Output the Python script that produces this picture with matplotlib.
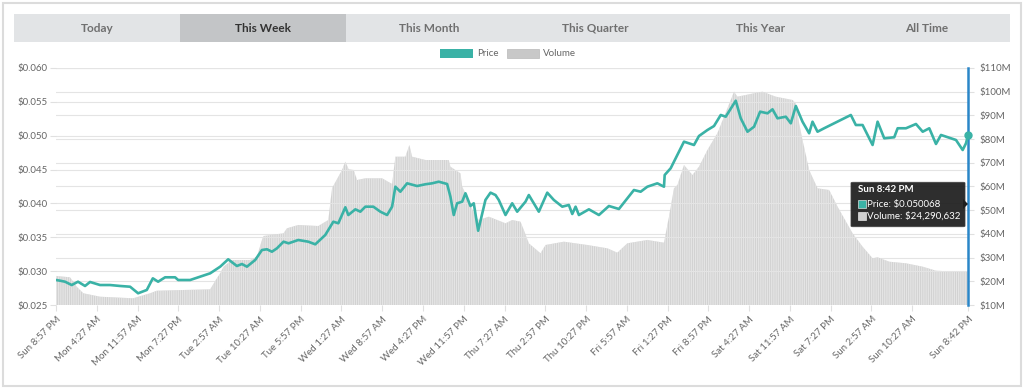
"""Grafica semanal de precio y volumen (estilo widget de exchange)."""

import matplotlib

matplotlib.use("Agg")
import matplotlib.pyplot as plt  # noqa: E402
from matplotlib.patches import Rectangle, FancyBboxPatch, Polygon  # noqa: E402

plt.rcParams["font.family"] = ["Lato", "DejaVu Sans"]
plt.rcParams["hatch.linewidth"] = 0.5

W, H = 1024, 389
COLOR_PRICE = "#3ab2a6"
COLOR_VOL = "#d2d2d2"
COLOR_CURSOR = "#2a86c8"
COLOR_TEXT = "#666666"

# horas desde Sun 8:57 PM
price_hours = [
    0, 0.74, 1.66, 2.89, 4.05, 5.34, 6.26, 8.10, 9.94, 11.79, 13.63, 15.10,
    16.70, 17.81, 18.78, 20.07, 21.91, 22.47, 24.67, 26.15, 28.36, 30.20,
    31.67, 33.27, 34.20, 35.12, 36.64, 37.88, 38.80, 39.72, 40.64, 41.85,
    42.78, 44.56, 46.40, 47.69, 49.53, 51.01, 51.93, 53.22, 53.77, 55.06,
    55.98, 56.90, 58.37, 59.66, 60.90, 61.82, 62.42, 63.34, 64.58, 66.42,
    67.95, 69.18, 70.40, 71.94, 72.55, 73.16, 73.78, 74.71, 75.31, 76.23,
    76.84, 77.65, 78.99, 79.92, 80.84, 81.44, 82.68, 83.91, 84.83, 86.36,
    86.97, 88.81, 90.36, 91.57, 93.12, 94.33, 94.96, 95.57, 96.18, 98.02,
    99.86, 101.70, 103.54, 105.09, 106.30, 107.54, 108.77, 110.61, 111.83,
    111.96, 113.06, 113.98, 115.51, 117.35, 118.27, 119.82, 121.03, 122.27,
    123.19, 125.03, 125.95, 127.19, 128.40, 129.51, 130.87, 131.79, 132.71,
    134.24, 135.16, 136.08, 137.31, 138.53, 139.15, 140.07, 141.29, 143.13,
    144.97, 146.20, 147.12, 148.36, 150.20, 151.12, 152.34, 154.18, 154.81,
    156.34, 158.18, 159.42, 160.63, 161.86, 162.78, 164.02, 165.54, 166.77,
    167.38, 167.75,
]
price = [
    0.02869, 0.02859, 0.02844, 0.02795, 0.02844, 0.02781, 0.02840, 0.02795,
    0.02795, 0.02781, 0.02770, 0.02673, 0.02722, 0.02894, 0.02844, 0.02909,
    0.02909, 0.02869, 0.02869, 0.02909, 0.02968, 0.03066, 0.03175, 0.03076,
    0.03105, 0.03066, 0.03165, 0.03312, 0.03323, 0.03287, 0.03337, 0.03435,
    0.03411, 0.03460, 0.03435, 0.03396, 0.03534, 0.03730, 0.03707, 0.03943,
    0.03829, 0.03913, 0.03878, 0.03952, 0.03952, 0.03878, 0.03829, 0.03952,
    0.04247, 0.04173, 0.04297, 0.04257, 0.04283, 0.04297, 0.04321, 0.04287,
    0.04099, 0.03829, 0.04002, 0.04026, 0.04150, 0.03962, 0.04002, 0.03597,
    0.04051, 0.04159, 0.04124, 0.04051, 0.03829, 0.04002, 0.03878, 0.04026,
    0.04124, 0.03878, 0.04159, 0.04051, 0.03952, 0.03977, 0.03844, 0.03952,
    0.03829, 0.03913, 0.03829, 0.03962, 0.03918, 0.04076, 0.04198, 0.04173,
    0.04247, 0.04297, 0.04247, 0.04420, 0.04519, 0.04666, 0.04912, 0.04863,
    0.04996, 0.05084, 0.05143, 0.05306, 0.05281, 0.05517, 0.05257, 0.05059,
    0.05133, 0.05355, 0.05331, 0.05390, 0.05257, 0.05281, 0.05183, 0.05439,
    0.05207, 0.05036, 0.05207, 0.05059, 0.05110, 0.05183, 0.05257, 0.05306,
    0.05158, 0.05158, 0.04863, 0.05207, 0.04962, 0.04977, 0.05110, 0.05110,
    0.05173, 0.05059, 0.05110, 0.04878, 0.05011, 0.04977, 0.04937, 0.04789,
    0.04888, 0.050068,
]

# volumen en millones de USD
volume_hours = [
    0, 2.58, 3.81, 5.03, 8.10, 14.18, 17.31, 18.54, 28.36, 29.59, 30.20,
    30.81, 32.35, 35.72, 36.96, 37.88, 38.17, 41.85, 42.48, 44.56, 48.24,
    50.09, 50.77, 52.61, 53.22, 53.83, 54.75, 55.37, 56.90, 59.97, 61.82,
    62.42, 64.26, 65.00, 65.50, 67.95, 72.24, 72.55, 73.47, 74.39, 74.71,
    75.31, 77.16, 77.76, 79.61, 82.68, 83.91, 85.43, 86.05, 86.97, 89.12,
    90.04, 93.41, 97.72, 101.40, 103.25, 105.09, 108.77, 111.83, 112.75,
    113.67, 114.30, 115.51, 117.06, 118.27, 119.82, 121.65, 122.88, 124.72,
    125.34, 128.40, 129.95, 132.40, 135.47, 136.08, 136.69, 137.31, 138.53,
    140.07, 142.21, 143.76, 146.52, 148.36, 150.20, 151.12, 153.26, 156.34,
    159.42, 161.86, 165.54, 167.75,
]
volume = [
    22.24, 21.69, 17.72, 14.94, 13.50, 12.83, 14.94, 16.03, 16.62, 21.27,
    23.38, 26.16, 28.99, 28.99, 30.38, 37.43, 39.11, 40.25, 42.36, 43.76,
    43.33, 45.86, 59.24, 66.96, 70.46, 67.26, 66.96, 62.74, 63.46, 63.46,
    61.05, 72.57, 72.57, 77.51, 72.57, 71.18, 71.18, 68.35, 66.96, 65.57,
    59.92, 57.13, 47.26, 45.86, 47.26, 44.47, 45.86, 45.16, 41.65, 36.03,
    31.81, 35.32, 36.71, 35.32, 33.92, 32.07, 36.03, 37.43, 36.29, 47.26,
    59.24, 60.63, 69.07, 64.85, 68.35, 75.40, 82.45, 89.45, 100.0, 97.89,
    99.33, 100.0, 97.89, 96.50, 95.11, 86.67, 79.62, 66.96, 59.24, 58.52,
    51.48, 40.25, 34.60, 29.70, 30.13, 28.27, 27.59, 26.16, 24.47, 24.05,
    24.290632,
]

tick_hours = [i * 7.5 for i in range(22)] + [167.75]
tick_labels = [
    "Sun 8:57 PM", "Mon 4:27 AM", "Mon 11:57 AM", "Mon 7:27 PM",
    "Tue 2:57 AM", "Tue 10:27 AM", "Tue 5:57 PM", "Wed 1:27 AM",
    "Wed 8:57 AM", "Wed 4:27 PM", "Wed 11:57 PM", "Thu 7:27 AM",
    "Thu 2:57 PM", "Thu 10:27 PM", "Fri 5:57 AM", "Fri 1:27 PM",
    "Fri 8:57 PM", "Sat 4:27 AM", "Sat 11:57 AM", "Sat 7:27 PM",
    "Sun 2:57 AM", "Sun 10:27 AM", "Sun 8:42 PM",
]
price_ticks = [0.025, 0.030, 0.035, 0.040, 0.045, 0.050, 0.055, 0.060]
volume_ticks = [10, 20, 30, 40, 50, 60, 70, 80, 90, 100, 110]
buttons = ["Today", "This Week", "This Month", "This Quarter", "This Year", "All Time"]
active_button = "This Week"
cursor_label = "Sun 8:42 PM"


def fx(x):
    return x / W


def fy(y):
    return 1 - y / H


fig = plt.figure(figsize=(W / 100, H / 100), dpi=100)
fig.patch.set_facecolor("white")

# marco exterior (sin relleno para no tapar los ejes)
fig.add_artist(Rectangle((fx(3), fy(386)), fx(1018), 383 / H, transform=fig.transFigure,
                         facecolor="none", edgecolor="#dcdcdc", linewidth=1.5))

# barra de botones
bw = 996 / len(buttons)
for i, name in enumerate(buttons):
    active = name == active_button
    x0 = 14 + i * bw
    fig.add_artist(Rectangle((fx(x0), fy(42)), fx(bw), 28 / H, transform=fig.transFigure,
                             facecolor="#c3c5c7" if active else "#e2e4e6",
                             edgecolor="none"))
    fig.text(fx(x0 + bw / 2), fy(28), name, ha="center", va="center", fontsize=8.5,
             fontweight="bold", color="#333333" if active else "#707070")

# leyenda
fig.add_artist(Rectangle((fx(440), fy(58)), fx(33), 9 / H, transform=fig.transFigure,
                         facecolor=COLOR_PRICE, edgecolor="none"))
fig.text(fx(477), fy(53.5), "Price", ha="left", va="center", fontsize=7, color=COLOR_TEXT)
fig.add_artist(Rectangle((fx(507), fy(58)), fx(32), 9 / H, transform=fig.transFigure,
                         facecolor="#c8c8c8", edgecolor="#b8b8b8", linewidth=0.5))
fig.text(fx(543), fy(53.5), "Volume", ha="left", va="center", fontsize=7, color=COLOR_TEXT)

ax = fig.add_axes([fx(56), fy(305), fx(968 - 56), (305 - 68) / H])
ax2 = ax.twinx()
ax.set_zorder(ax2.get_zorder() + 1)
ax.patch.set_visible(False)

ax2.fill_between(volume_hours, volume, 10, facecolor=COLOR_VOL, edgecolor="#ededed",
                 hatch="|" * 9, linewidth=0, zorder=2)
ax2.set_ylim(10, 110)
ax2.set_yticks(volume_ticks)
ax2.set_yticklabels([f"${v}M" for v in volume_ticks])
ax2.grid(True, axis="y", color="#e4e4e4", linewidth=0.8, zorder=0)
ax2.set_axisbelow(True)

ax.plot(price_hours, price, color=COLOR_PRICE, linewidth=1.9, zorder=4,
        solid_joinstyle="round")
ax.axvline(price_hours[-1], color=COLOR_CURSOR, linewidth=1.8, zorder=3, clip_on=False)
ax.plot(price_hours[-1], price[-1], "o", color=COLOR_PRICE, markersize=5, zorder=5,
        clip_on=False)
ax.set_xlim(0, 167.75)
ax.set_ylim(0.025, 0.060)
ax.set_yticks(price_ticks)
ax.set_yticklabels([f"${p:.3f}" for p in price_ticks])
ax.set_xticks(tick_hours)
ax.set_xticklabels(tick_labels, rotation=45, ha="right", rotation_mode="anchor")
ax.grid(True, axis="y", color="#e4e4e4", linewidth=0.8)
ax2.grid(True, axis="x", color="#dedede", linewidth=0.8)
ax.set_axisbelow(True)

for a in (ax, ax2):
    for sp in a.spines.values():
        sp.set_visible(False)
    a.tick_params(colors="#e0e0e0", labelcolor=COLOR_TEXT, labelsize=7, length=4, width=0.8)
ax.tick_params(axis="y", length=4, pad=2)
ax2.tick_params(axis="y", length=4, pad=4)
ax.tick_params(axis="x", pad=3)

# tooltip
TZ = 20
fig.add_artist(FancyBboxPatch((fx(853), fy(226)), fx(110), 43 / H,
                              boxstyle="round,pad=0.002", transform=fig.transFigure,
                              facecolor="#1e1e1e", edgecolor="#444444", linewidth=0.5,
                              alpha=0.93, zorder=TZ))
fig.add_artist(Polygon([(fx(963), fy(199)), (fx(968), fy(204)), (fx(963), fy(209))],
                       closed=True, transform=fig.transFigure, facecolor="#1e1e1e",
                       edgecolor="none", zorder=TZ))
fig.text(fx(858), fy(189), cursor_label, ha="left", va="center", fontsize=7,
         fontweight="bold", color="white", zorder=TZ + 1)
fig.add_artist(Rectangle((fx(858), fy(208)), fx(8), 8 / H, transform=fig.transFigure,
                         facecolor=COLOR_PRICE, edgecolor="white", linewidth=0.4,
                         zorder=TZ + 1))
fig.text(fx(867), fy(204), f"Price: ${price[-1]:.6f}", ha="left", va="center",
         fontsize=7, color="white", zorder=TZ + 1)
fig.add_artist(Rectangle((fx(858), fy(220)), fx(8), 8 / H, transform=fig.transFigure,
                         facecolor="#d0d0d0", edgecolor="white", linewidth=0.4,
                         zorder=TZ + 1))
fig.text(fx(867), fy(216), f"Volume: ${volume[-1] * 1e6:,.0f}", ha="left", va="center",
         fontsize=7, color="white", zorder=TZ + 1)

fig.savefig("out.png", dpi=100)
